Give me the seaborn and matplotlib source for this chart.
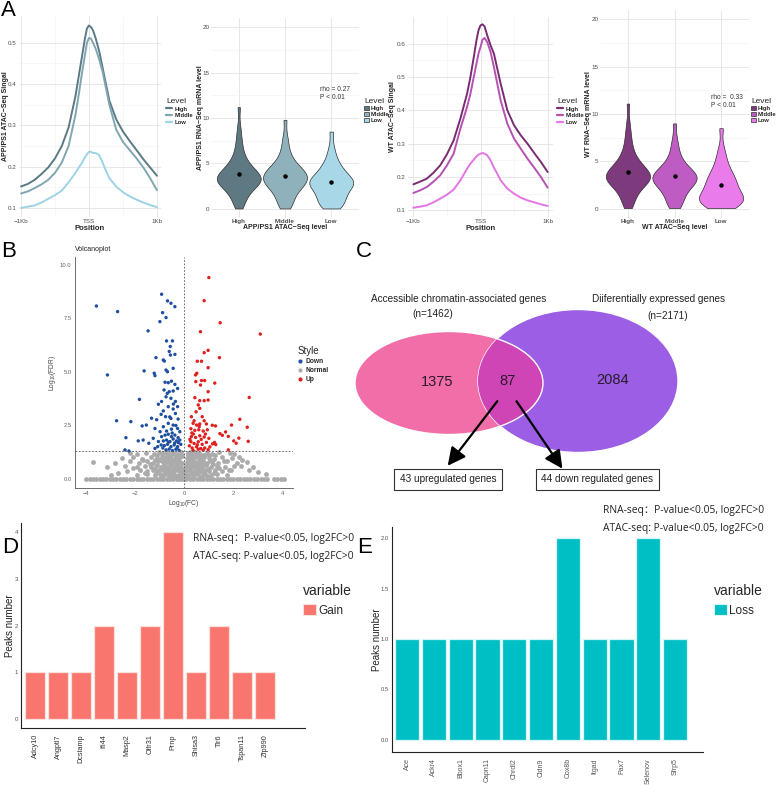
import matplotlib
matplotlib.use("Agg")
import numpy as np
import pandas as pd
import matplotlib.pyplot as plt
import seaborn as sns
from matplotlib.patches import Ellipse, Patch
from matplotlib.lines import Line2D

# ----------------------------------------------------------------------
# data
# ----------------------------------------------------------------------
levels = ["High", "Middle", "Low"]

# ATAC profile around TSS (bp)
positions = [-1000, -900, -800, -700, -600, -500, -400, -300, -200, -150, -100, -60, -30, 0,
             30, 60, 100, 150, 200, 250, 300, 400, 500, 600, 700, 800, 900, 1000]
app_high = [0.152, 0.158, 0.168, 0.182, 0.198, 0.22, 0.25, 0.295, 0.37, 0.42, 0.47, 0.51, 0.535, 0.542,
            0.538, 0.53, 0.51, 0.48, 0.44, 0.40, 0.36, 0.315, 0.285, 0.262, 0.24, 0.218, 0.198, 0.178]
app_mid = [0.135, 0.14, 0.148, 0.157, 0.168, 0.185, 0.21, 0.25, 0.325, 0.375, 0.43, 0.47, 0.5, 0.512,
           0.51, 0.5, 0.485, 0.46, 0.43, 0.39, 0.35, 0.29, 0.26, 0.24, 0.22, 0.198, 0.172, 0.143]
app_low = [0.100, 0.103, 0.106, 0.113, 0.122, 0.131, 0.142, 0.162, 0.185, 0.198, 0.21, 0.222, 0.23, 0.236,
           0.236, 0.233, 0.233, 0.228, 0.21, 0.19, 0.172, 0.152, 0.138, 0.128, 0.12, 0.113, 0.107, 0.102]
wt_high = [0.178, 0.186, 0.195, 0.213, 0.235, 0.268, 0.31, 0.375, 0.45, 0.5, 0.56, 0.61, 0.64, 0.655,
           0.658, 0.652, 0.625, 0.595, 0.57, 0.525, 0.48, 0.40, 0.355, 0.325, 0.30, 0.272, 0.245, 0.215]
wt_mid = [0.152, 0.16, 0.17, 0.186, 0.205, 0.235, 0.27, 0.345, 0.41, 0.45, 0.5, 0.54, 0.57, 0.59,
          0.612, 0.617, 0.605, 0.575, 0.53, 0.48, 0.43, 0.36, 0.315, 0.285, 0.255, 0.228, 0.2, 0.168]
wt_low = [0.108, 0.111, 0.115, 0.124, 0.135, 0.147, 0.162, 0.19, 0.225, 0.24, 0.252, 0.262, 0.267, 0.27,
          0.272, 0.27, 0.265, 0.25, 0.228, 0.21, 0.19, 0.165, 0.15, 0.138, 0.13, 0.124, 0.118, 0.113]

# RNA-seq level per ATAC group
app_rna_high = [0.05, 0.4, 0.8, 1.1, 1.4, 1.6, 1.8, 2.0, 2.2, 2.4, 2.5, 2.6, 2.7, 2.8, 2.9, 3.0, 3.05, 3.1,
                3.2, 3.25, 3.3, 3.35, 3.4, 3.5, 3.6, 3.7, 3.8, 3.9, 4.0, 4.1, 4.2, 4.35, 4.5, 4.6, 4.8,
                5.0, 5.2, 5.5, 5.8, 6.2, 6.7, 7.3, 8.0, 9.0, 11.2]
app_rna_mid = [0.05, 0.3, 0.6, 0.9, 1.2, 1.5, 1.7, 1.9, 2.1, 2.3, 2.5, 2.6, 2.7, 2.8, 2.9, 3.0, 3.1, 3.2,
               3.3, 3.4, 3.5, 3.6, 3.7, 3.8, 3.9, 4.0, 4.1, 4.2, 4.4, 4.5, 4.6, 4.8, 5.0, 5.3, 5.6, 6.0,
               6.5, 7.2, 8.0, 9.8]
app_rna_low = [0.05, 0.2, 0.4, 0.6, 0.8, 1.0, 1.2, 1.4, 1.6, 1.8, 2.0, 2.2, 2.4, 2.5, 2.6, 2.7, 2.8, 2.9,
               3.0, 3.1, 3.2, 3.3, 3.4, 3.6, 3.8, 4.0, 4.2, 4.4, 4.7, 5.0, 5.4, 6.0, 6.8, 8.5]
wt_rna_high = [0.05, 0.4, 0.8, 1.1, 1.4, 1.7, 1.9, 2.1, 2.3, 2.5, 2.6, 2.7, 2.8, 2.9, 3.0, 3.1, 3.2, 3.25,
               3.3, 3.35, 3.4, 3.5, 3.6, 3.7, 3.8, 3.9, 4.0, 4.1, 4.2, 4.35, 4.5, 4.6, 4.8, 5.0, 5.2,
               5.5, 5.8, 6.2, 6.7, 7.3, 8.0, 9.0, 11.1]
wt_rna_mid = [0.05, 0.3, 0.6, 0.9, 1.2, 1.5, 1.7, 1.9, 2.1, 2.3, 2.5, 2.6, 2.7, 2.8, 2.9, 3.0, 3.1, 3.2,
              3.3, 3.4, 3.5, 3.6, 3.7, 3.8, 3.9, 4.0, 4.2, 4.4, 4.6, 4.8, 5.1, 5.5, 6.0, 6.6, 7.4, 9.0]
wt_rna_low = [0.05, 0.2, 0.35, 0.5, 0.6, 0.7, 0.8, 0.9, 1.0, 1.1, 1.2, 1.35, 1.5, 1.7, 1.9, 2.1, 2.3,
              2.5, 2.7, 2.9, 3.1, 3.3, 3.5, 3.8, 4.1, 4.5, 5.0, 5.6, 6.4, 8.5]

# volcano
down_pts = [(-3.58, 8.08), (-2.72, 7.82), (-3.13, 4.86), (-2.76, 2.72), (-2.18, 2.68), (-2.38, 1.93),
            (-2.42, 1.36), (-2.26, 1.31), (-1.48, 6.92), (-1.64, 5.05), (-1.83, 3.72), (-1.72, 2.48),
            (-1.55, 2.52), (-1.88, 1.78), (-1.68, 1.82), (-1.34, 2.84), (-1.2, 2.36), (-1.45, 1.67),
            (-1.27, 1.9), (-0.93, 8.63), (-0.69, 8.32), (-0.55, 8.21), (-0.39, 8.05), (-0.89, 7.77),
            (-0.75, 7.54), (-1.0, 7.35), (-1.16, 5.67), (-1.23, 4.94), (-1.2, 4.83), (-0.73, 6.45),
            (-0.49, 6.45), (-0.58, 6.19), (-0.62, 5.96), (-0.57, 5.79), (-0.39, 5.82), (-0.86, 5.56),
            (-0.82, 5.51), (-0.75, 5.09), (-0.69, 5.01), (-0.46, 5.17), (-0.79, 4.52), (-0.66, 4.5),
            (-0.53, 4.57), (-0.39, 4.42), (-0.83, 4.16), (-0.62, 4.08), (-0.46, 4.11), (-0.28, 4.23),
            (-0.75, 3.84), (-0.55, 3.77), (-0.37, 3.62), (-0.93, 3.62), (-1.06, 3.49), (-0.66, 3.38),
            (-0.46, 3.27), (-0.28, 3.38), (-0.86, 3.18), (-0.95, 3.02), (-0.77, 2.91), (-0.55, 2.83),
            (-0.37, 3.06), (-0.26, 2.8), (-1.13, 2.77), (-0.66, 2.6), (-0.46, 2.52), (-0.86, 2.44),
            (-0.99, 2.21), (-0.73, 2.24), (-0.53, 2.33), (-0.28, 2.36), (-0.19, 2.21), (-0.93, 1.98),
            (-0.79, 2.05), (-0.66, 2.09), (-0.53, 1.98), (-0.39, 2.05), (-0.26, 1.93), (-0.86, 1.78),
            (-0.73, 1.82), (-0.59, 1.75), (-0.46, 1.87), (-0.32, 1.78), (-0.19, 1.82), (-0.95, 1.59),
            (-0.82, 1.56), (-0.69, 1.62), (-0.55, 1.51), (-0.42, 1.59), (-0.28, 1.51), (-0.15, 1.62),
            (-0.75, 1.36), (-0.62, 1.4), (-0.49, 1.33), (-0.35, 1.39), (-0.22, 1.34), (-1.09, 1.51),
            (-1.06, 1.75), (-1.2, 1.43), (-0.88, 1.45), (-0.65, 1.72), (-0.4, 1.68), (-0.25, 1.7),
            (-0.5, 2.15), (-0.35, 2.5), (-0.6, 2.9), (-0.45, 3.5), (-0.7, 4.0), (-0.3, 1.45)]
up_pts = [(0.99, 9.41), (0.8, 8.33), (1.45, 7.3), (0.65, 6.88), (3.08, 6.77), (0.96, 6.01), (0.8, 5.9),
          (0.52, 5.5), (0.69, 5.5), (1.42, 5.67), (0.96, 5.2), (0.5, 4.94), (0.45, 4.86), (0.46, 4.55),
          (0.69, 4.6), (0.82, 4.6), (0.65, 4.39), (1.23, 4.48), (0.96, 4.08), (0.42, 3.8), (0.62, 3.66),
          (0.8, 3.66), (0.96, 3.69), (0.56, 3.46), (0.62, 3.3), (2.63, 3.81), (0.47, 3.14), (0.28, 2.91),
          (0.72, 2.91), (2.25, 2.79), (0.39, 2.72), (0.8, 2.72), (0.35, 2.6), (0.49, 2.52), (0.62, 2.57),
          (0.89, 2.57), (1.13, 2.51), (1.26, 2.48), (1.91, 2.52), (2.55, 2.42), (1.67, 2.2), (1.44, 2.12),
          (1.54, 2.04), (1.78, 1.99), (2.21, 1.91), (2.59, 1.76), (2.0, 1.78), (2.1, 1.67), (1.22, 1.71),
          (1.14, 1.64), (1.27, 1.61), (1.78, 1.36), (0.26, 2.35), (0.42, 2.27), (0.58, 2.3), (0.76, 2.24),
          (0.93, 2.3), (0.28, 1.98), (0.45, 1.94), (0.62, 2.02), (0.8, 1.96), (0.99, 1.9), (0.26, 1.74),
          (0.39, 1.66), (0.56, 1.74), (0.72, 1.62), (0.89, 1.71), (0.31, 1.45), (0.49, 1.5), (0.66, 1.42),
          (0.82, 1.45), (1.03, 1.5), (0.35, 1.34), (0.56, 1.39), (0.76, 1.34), (0.96, 1.37), (0.2, 1.55),
          (0.22, 1.85), (0.52, 1.6), (0.68, 1.85), (0.36, 2.1), (0.85, 2.1), (0.6, 2.45), (0.3, 2.15)]
normal_pts = [(-1.92, 1.18), (-1.55, 1.22), (-1.22, 1.15), (-1.02, 1.24), (-0.86, 1.2), (-0.71, 1.26),
              (-0.56, 1.17), (-0.41, 1.23), (-0.29, 1.19), (-0.16, 1.25), (0.14, 1.21), (0.27, 1.16),
              (0.41, 1.24), (0.57, 1.2), (0.74, 1.14), (0.91, 1.22), (1.12, 1.18), (1.42, 1.25),
              (1.83, 1.21), (2.2, 1.05), (-2.52, 0.98), (-2.08, 1.04), (-1.72, 0.95), (-1.37, 1.02),
              (-1.12, 0.97), (-0.93, 1.05), (-0.79, 0.99), (-0.63, 1.03), (-0.49, 0.94), (-0.34, 1.01),
              (-0.21, 0.96), (-0.1, 1.06), (0.11, 0.98), (0.23, 1.03), (0.36, 0.95), (0.51, 1.02),
              (0.66, 0.97), (0.81, 1.04), (0.99, 0.99), (1.21, 0.93), (1.52, 1.01), (1.93, 0.96),
              (2.35, 0.9), (-3.72, 0.8), (-2.83, 0.74), (-2.21, 0.83), (-1.83, 0.77), (-1.52, 0.82),
              (-1.27, 0.76), (-1.06, 0.84), (-0.89, 0.78), (-0.73, 0.81), (-0.59, 0.75), (-0.46, 0.83),
              (-0.33, 0.77), (-0.21, 0.82), (-0.11, 0.74), (0.09, 0.79), (0.19, 0.84), (0.31, 0.76),
              (0.44, 0.81), (0.61, 0.77), (0.76, 0.83), (0.93, 0.75), (1.11, 0.8), (1.36, 0.76),
              (1.72, 0.82), (2.12, 0.74), (2.55, 0.79), (-3.15, 0.58), (-2.42, 0.63), (-1.94, 0.56),
              (-1.62, 0.62), (-1.36, 0.57), (-1.13, 0.64), (-0.96, 0.58), (-0.81, 0.61), (-0.66, 0.55),
              (-0.51, 0.63), (-0.38, 0.59), (-0.26, 0.64), (-0.13, 0.56), (0.07, 0.6), (0.17, 0.55),
              (0.29, 0.63), (0.43, 0.57), (0.57, 0.62), (0.71, 0.58), (0.87, 0.64), (1.06, 0.56),
              (1.31, 0.61), (1.63, 0.57), (2.02, 0.63), (2.62, 0.42), (-2.33, 0.38), (-1.82, 0.43),
              (-1.51, 0.36), (-1.26, 0.42), (-1.06, 0.37), (-0.89, 0.44), (-0.73, 0.39), (-0.59, 0.41),
              (-0.45, 0.35), (-0.31, 0.43), (-0.19, 0.38), (-0.08, 0.42), (0.06, 0.37), (0.16, 0.44),
              (0.27, 0.39), (0.41, 0.36), (0.55, 0.43), (0.69, 0.38), (0.85, 0.41), (1.01, 0.36),
              (1.22, 0.42), (1.51, 0.37), (1.91, 0.4), (3.0, 0.35), (-1.93, 0.18), (-1.52, 0.22),
              (-1.21, 0.17), (-1.01, 0.24), (-0.83, 0.19), (-0.67, 0.23), (-0.51, 0.16), (-0.37, 0.21),
              (-0.23, 0.18), (-0.11, 0.24), (0.05, 0.2), (0.15, 0.17), (0.26, 0.23), (0.39, 0.19),
              (0.54, 0.22), (0.7, 0.16), (0.89, 0.21), (1.09, 0.18), (1.32, 0.23), (1.71, 0.2),
              (-0.6, 0.3), (-0.4, 0.5), (-0.3, 0.7), (-0.5, 0.9), (-0.7, 1.1), (0.3, 0.3), (0.5, 0.5),
              (0.4, 0.7), (0.6, 0.9), (0.35, 1.1), (-0.2, 0.3), (0.2, 0.65), (-0.8, 0.5), (0.8, 0.3),
              (-1.15, 0.3), (-0.95, 0.12), (-0.78, 0.3), (-0.62, 0.1), (-0.47, 0.28), (-0.33, 0.08),
              (-0.14, 0.12), (0.1, 0.1), (0.33, 0.09), (0.47, 0.3), (0.62, 0.1), (0.78, 0.3), (0.97, 0.1),
              (1.18, 0.3), (-1.2, 0.5), (-1.0, 0.48), (-0.85, 0.66), (-0.68, 0.48), (-0.55, 0.68),
              (-0.42, 0.48), (-0.22, 0.5), (-0.1, 0.32), (0.12, 0.48), (0.25, 0.52), (0.37, 0.66),
              (0.5, 0.7), (0.64, 0.48), (0.8, 0.7), (0.95, 0.48), (1.15, 0.7), (-1.18, 0.9), (-0.98, 0.9),
              (-0.84, 0.88), (-0.66, 0.9), (-0.54, 1.1), (-0.4, 0.92), (-0.25, 0.9), (-0.15, 1.12),
              (0.16, 1.1), (0.28, 0.9), (0.48, 1.12), (0.7, 0.9), (0.85, 1.12), (1.05, 0.88), (1.25, 1.1),
              (-1.1, 1.1), (-0.9, 1.15), (-0.6, 1.12), (-0.35, 1.13), (0.22, 1.25), (0.65, 1.1),
              (0.98, 1.12), (-1.6, 0.3), (-1.4, 0.7), (-1.7, 0.9), (1.4, 0.5), (1.6, 0.85), (1.8, 0.4),
              (2.3, 0.6), (-2.1, 0.5), (-2.7, 0.3), (2.8, 0.55), (3.3, 0.25), (-3.0, 0.2), (2.0, 1.15),
              (-2.2, 1.2)]
normal_zero_x = [-4.0, -3.86, -3.72, -3.6, -3.45, -3.31, -3.18, -3.04, -2.9, -2.77, -2.63, -2.5, -2.36,
                 -2.22, -2.09, -1.95, -1.82, -1.68, -1.54, -1.41, -1.27, -1.13, -1.0, -0.86, -0.72,
                 -0.59, -0.45, -0.31, -0.18, -0.05, 0.08, 0.22, 0.35, 0.49, 0.63, 0.76, 0.9, 1.04,
                 1.17, 1.31, 1.45, 1.58, 1.72, 1.86, 1.99, 2.13, 2.27, 2.4, 2.54, 2.68, 2.81, 2.95,
                 3.09, 3.22, 3.36, 3.62, 3.75, 3.92, 4.05]

# venn
venn_left_only, venn_both, venn_right_only = 1375, 87, 2084
venn_n_left, venn_n_right = 1462, 2171
venn_up, venn_down = 43, 44

# peaks per gene
gain_genes = ["Adcy10", "Angptl7", "Dcstamp", "Ifi44", "Masp2", "Olfr31", "Prnp", "Shisa3", "Tlr6",
              "Tspan11", "Zfp990"]
gain_peaks = [1, 1, 1, 2, 1, 2, 4, 1, 2, 1, 1]
loss_genes = ["Ace", "Ackr4", "Bbox1", "Capn11", "Chrdl2", "Cldn9", "Cox8b", "Itgad", "Pax7",
              "Selenov", "Sfrp5"]
loss_peaks = [1, 1, 1, 1, 1, 1, 2, 1, 1, 2, 1]

# ----------------------------------------------------------------------
# layout helpers (pixel based)
# ----------------------------------------------------------------------
W, H = 778, 785
sns.set_theme(style="white")
plt.rcParams["font.family"] = ["Liberation Sans", "Noto Sans CJK SC"]
plt.rcParams["mathtext.fontset"] = "custom"
plt.rcParams["mathtext.rm"] = "Liberation Sans"
plt.rcParams["mathtext.it"] = "Liberation Sans:italic"

fig = plt.figure(figsize=(W / 100, H / 100), dpi=100)
fig.patch.set_facecolor("white")


def add_ax(l, t, r, b):
    return fig.add_axes([l / W, 1 - b / H, (r - l) / W, (b - t) / H])


def fpos(x, y):
    return (x / W, 1 - y / H)


def put_ylabel(ax, x_px):
    # centre the y label on a given figure pixel column
    l = ax.get_position().x0 * W
    w = ax.get_position().width * W
    ax.yaxis.label.set_va("center")
    ax.yaxis.set_label_coords((x_px - l) / w, 0.5)


app_line_cols = ["#5B7A85", "#80A6B1", "#9DD3E4"]
wt_line_cols = ["#7A2C72", "#B651B3", "#E475E4"]
app_vio_cols = ["#5F7983", "#8FB1BC", "#A8D8E8"]
wt_vio_cols = ["#7D3A7D", "#BE5CC3", "#EA7BEB"]


def profile(ax, high, mid, low, cols, ylabel, yticks, ylim, xlim, leg_xy, ylab_x):
    df = pd.DataFrame({
        "pos": positions * 3,
        "signal": high + mid + low,
        "Level": ["High"] * len(positions) + ["Middle"] * len(positions) + ["Low"] * len(positions),
    })
    sns.lineplot(data=df, x="pos", y="signal", hue="Level", hue_order=levels, palette=cols,
                 linewidth=1.4, ax=ax, legend=False)
    ax.set_xlim(*xlim)
    ax.set_ylim(*ylim)
    ax.set_xticks([-1000, 0, 1000], ["\u22121Kb", "TSS", "1Kb"])
    ax.set_xticks([-500, 500], minor=True)
    ax.set_yticks(yticks)
    ax.set_yticks([v + 0.05 for v in yticks[:-1]], minor=True)
    ax.grid(which="major", color="#e3e3e3", lw=0.6)
    ax.grid(which="minor", color="#f1f1f1", lw=0.4)
    ax.tick_params(which="both", length=0, labelsize=4.5, colors="#4d4d4d", pad=1.5)
    for s in ax.spines.values():
        s.set_visible(False)
    ax.set_xlabel("Position", fontsize=5.5, fontweight="bold", labelpad=1)
    ax.set_ylabel(ylabel, fontsize=5, fontweight="bold")
    put_ylabel(ax, ylab_x)
    handles = [Line2D([], [], color=c, lw=1.6) for c in cols]
    ax.legend(handles, levels, title="Level", loc="upper left", bbox_to_anchor=fpos(*leg_xy),
              bbox_transform=fig.transFigure, frameon=False, title_fontsize=6,
              handlelength=1.0, labelspacing=0.25, borderpad=0, borderaxespad=0,
              handletextpad=0.4, alignment="left", prop={"weight": "bold", "size": 4.2})


def violin(ax, vals, cols, ylabel, xlabel, rho, rho_xy, leg_xy, ylab_x):
    df = pd.DataFrame({
        "Level": ["High"] * len(vals[0]) + ["Middle"] * len(vals[1]) + ["Low"] * len(vals[2]),
        "rna": vals[0] + vals[1] + vals[2],
    })
    sns.violinplot(data=df, x="Level", y="rna", hue="Level", order=levels, hue_order=levels,
                   palette=cols, inner=None, cut=0, bw_adjust=0.75, density_norm="area",
                   width=0.95, linewidth=0.5, linecolor="#2f2f2f", saturation=1, legend=False, ax=ax)
    sns.pointplot(data=df, x="Level", y="rna", order=levels, estimator="mean", errorbar=None,
                  linestyle="none", markers="o", markersize=1.2, color="black", ax=ax)
    ax.set_xlim(-0.6, 2.6)
    ax.set_ylim(-1, 21)
    ax.set_yticks([0, 5, 10, 15, 20])
    ax.set_yticks([2.5, 7.5, 12.5, 17.5], minor=True)
    ax.grid(which="major", color="#e3e3e3", lw=0.6)
    ax.grid(which="minor", color="#f1f1f1", lw=0.4)
    ax.tick_params(which="both", length=0, labelsize=4.5, colors="#4d4d4d", pad=1)
    for lab in ax.get_xticklabels():
        lab.set_fontweight("bold")
    for s in ax.spines.values():
        s.set_visible(False)
    ax.set_xlabel(xlabel, fontsize=5, fontweight="bold", labelpad=0)
    ax.set_ylabel(ylabel, fontsize=5, fontweight="bold")
    put_ylabel(ax, ylab_x)
    ax.text(rho_xy[0], rho_xy[1], f"rho = {rho}\nP < 0.01", fontsize=4.8, color="#333333",
            va="center", linespacing=1.2)
    handles = [Patch(facecolor=c, edgecolor="#2f2f2f", lw=0.5) for c in cols]
    ax.legend(handles, levels, title="Level", loc="upper left", bbox_to_anchor=fpos(*leg_xy),
              bbox_transform=fig.transFigure, frameon=False, title_fontsize=6,
              handlelength=0.9, handleheight=0.9, labelspacing=0.1, borderpad=0, borderaxespad=0,
              handletextpad=0.3, alignment="left", prop={"weight": "bold", "size": 4.2})


# ----------------------------------------------------------------------
# A
# ----------------------------------------------------------------------
ax1 = add_ax(19, 16, 161, 217)
profile(ax1, app_high, app_mid, app_low, app_line_cols, "APP/PS1 ATAC\u2212Seq Singal",
        [0.1, 0.2, 0.3, 0.4, 0.5], (0.078, 0.565), (-1030, 1060), (166, 98), 6)
ax2 = add_ax(211, 18, 359, 218)
violin(ax2, [app_rna_high, app_rna_mid, app_rna_low], app_vio_cols,
       "APP/PS1 RNA\u2212Seq mRNA level", "APP/PS1 ATAC\u2212Seq level", "0.27", (1.75, 12.7),
       (364, 98), 200)
ax3 = add_ax(408, 17, 553, 217)
profile(ax3, wt_high, wt_mid, wt_low, wt_line_cols, "WT ATAC\u2212Seq Singal",
        [0.1, 0.2, 0.3, 0.4, 0.5, 0.6], (0.08, 0.68), (-1080, 1080), (557, 98), 392)
ax4 = add_ax(600, 10, 749, 218)
violin(ax4, [wt_rna_high, wt_rna_mid, wt_rna_low], wt_vio_cols,
       "WT RNA\u2212Seq mRNA level", "WT ATAC\u2212Seq level", " 0.33", (1.78, 11.3), (751, 98), 588)

# ----------------------------------------------------------------------
# B volcano
# ----------------------------------------------------------------------
vx = [p[0] for p in down_pts] + [p[0] for p in normal_pts] + normal_zero_x + [p[0] for p in up_pts]
vy = [p[1] for p in down_pts] + [p[1] for p in normal_pts] + [0.0] * len(normal_zero_x) + [p[1] for p in up_pts]
vstyle = (["Down"] * len(down_pts) + ["Normal"] * (len(normal_pts) + len(normal_zero_x))
          + ["Up"] * len(up_pts))
volcano = pd.DataFrame({"logFC": vx, "logFDR": vy, "Style": vstyle})
style_cols = {"Down": "#1F4FA0", "Normal": "#ABABAB", "Up": "#E0201E"}

axb = add_ax(75, 257, 293, 488)
sns.scatterplot(data=volcano[volcano.Style == "Normal"], x="logFC", y="logFDR", color=style_cols["Normal"],
                s=12, linewidth=0, ax=axb, legend=False)
sns.scatterplot(data=volcano[volcano.Style != "Normal"], x="logFC", y="logFDR", hue="Style",
                palette=style_cols, s=6, linewidth=0, ax=axb, legend=False)
axb.axvline(0, color="#555555", lw=0.6, ls=(0, (2, 2)))
axb.axhline(1.3, color="#555555", lw=0.6, ls=(0, (2, 2)))
axb.set_xlim(-4.45, 4.41)
axb.set_ylim(-0.42, 10.37)
axb.set_xticks([-4, -2, 0, 2, 4])
axb.set_yticks([0, 2.5, 5, 7.5, 10], ["0.0", "2.5", "5.0", "7.5", "10.0"])
axb.tick_params(length=1.5, width=0.5, labelsize=4.2, colors="#666666", pad=1)
for side in ["top", "right"]:
    axb.spines[side].set_visible(False)
for side in ["left", "bottom"]:
    axb.spines[side].set_color("#555555")
    axb.spines[side].set_linewidth(0.6)
axb.set_xlabel("Log$_{10}$(FC)", fontsize=4.8, color="#444444", labelpad=1)
axb.set_ylabel("Log$_{10}$(FDR)", fontsize=4.8, color="#444444")
put_ylabel(axb, 53)
axb.set_title("Volcanoplot", fontsize=5, loc="left", pad=4, color="#222222")
vh = [Line2D([], [], marker="o", ls="none", markersize=2, color=style_cols[k]) for k in ["Down", "Normal", "Up"]]
axb.legend(vh, ["Down", "Normal", "Up"], title="Style", loc="upper left", bbox_to_anchor=fpos(298, 346),
           bbox_transform=fig.transFigure, frameon=False, title_fontsize=7, handlelength=0.6,
           labelspacing=0.3, borderpad=0, borderaxespad=0, handletextpad=0.5, alignment="left",
           prop={"weight": "bold", "size": 4.8})

# ----------------------------------------------------------------------
# C venn
# ----------------------------------------------------------------------
axc = add_ax(340, 250, 778, 500)
axc.set_xlim(340, 778)
axc.set_ylim(500, 250)
axc.axis("off")
pink = Ellipse((449, 383), 188, 103, facecolor="#F26EA8", edgecolor="white", lw=1)
purple = Ellipse((578, 381), 200, 143, facecolor="#9B5EE4", edgecolor="white", lw=1)
axc.add_patch(pink)
axc.add_patch(purple)
overlap = Ellipse((449, 383), 188, 103, facecolor="#CF45B5", edgecolor="white", lw=1)
axc.add_patch(overlap)
overlap.set_clip_path(purple)
vt = dict(fontsize=7.2, color="#222222", ha="center", va="center")
axc.text(459, 299, "Accessible chromatin-associated genes", **vt)
axc.text(433, 314, f"(n={venn_n_left})", **vt)
axc.text(658, 299, "Diiferentially expressed genes", **vt)
axc.text(668, 316, f"(n={venn_n_right})", **vt)
nt = dict(fontsize=10.5, color="#2a1a2a", ha="center", va="center")
axc.text(437, 382, str(venn_left_only), **nt)
axc.text(507, 381, str(venn_both), **nt)
axc.text(613, 380, str(venn_right_only), **nt)
arrow = dict(arrowstyle="-|>,head_length=0.9,head_width=0.45", color="black", lw=1.6)
axc.annotate("", xy=(446, 468), xytext=(499, 399), arrowprops=arrow)
axc.annotate("", xy=(564, 471), xytext=(515, 399), arrowprops=arrow)
bt = dict(fontsize=7.2, color="#222222", ha="center", va="center",
          bbox=dict(boxstyle="square,pad=0.55", facecolor="white", edgecolor="#333333", lw=0.8))
axc.text(448, 479, f"{venn_up} upregulated genes", **bt)
axc.text(597, 479, f"{venn_down} down regulated genes", **bt)


# ----------------------------------------------------------------------
# D / E bars
# ----------------------------------------------------------------------
def peaks(ax, genes, vals, color, edge, label, ylim, xlim, yticks, tick_fs, leg_xy, txt_xy, lab_col, ylab_x):
    sns.barplot(x=genes, y=vals, color=color, saturation=1, width=0.9, edgecolor=edge,
                linewidth=0.9, ax=ax)
    ax.set_xlim(*xlim)
    ax.set_ylim(*ylim)
    ax.set_xticks(range(len(genes) + 1), genes + [""])
    ax.set_yticks(yticks)
    ax.tick_params(axis="x", rotation=90, labelsize=tick_fs, colors="#444444", length=2.5, width=0.6, pad=2)
    ax.tick_params(axis="y", labelsize=tick_fs - 0.8, colors="#555555", length=1.5, width=0.5, pad=0.5)
    for lab in ax.get_xticklabels():
        lab.set_color(lab_col)
    for side in ["top", "right"]:
        ax.spines[side].set_visible(False)
    for side in ["left", "bottom"]:
        ax.spines[side].set_color("#222222")
        ax.spines[side].set_linewidth(0.8)
    ax.set_ylabel("Peaks number", fontsize=7, color="#222222")
    put_ylabel(ax, ylab_x)
    ax.set_xlabel("")
    ax.legend([Patch(facecolor=color, edgecolor=edge, lw=0.8)], [label], title="variable",
              loc="upper left", bbox_to_anchor=fpos(*leg_xy), bbox_transform=fig.transFigure,
              frameon=False, fontsize=8.5, title_fontsize=10, handlelength=1.1, handleheight=1.1,
              borderpad=0, borderaxespad=0, handletextpad=0.2, alignment="left")
    tf = dict(fontsize=7.4, color="#222222", va="center", family=["Open Sans", "Noto Sans CJK SC"],
              transform=fig.transFigure)
    fig.text(*fpos(txt_xy[0], txt_xy[1]), "RNA-seq\uff1aP-value<0.05, log2FC>0", **tf)
    fig.text(*fpos(txt_xy[0], txt_xy[1] + 19), "ATAC-seq: P-value<0.05, log2FC>0", **tf)


axd = add_ax(21, 523, 305, 728)
peaks(axd, gain_genes, gain_peaks, "#F8766D", "#FCE0DC", "Gain", (-0.19, 4.19), (-0.61, 11.74),
      [0, 1, 2, 3, 4], 5.2, (303, 584), (193, 538), "#333333", 10)
axe = add_ax(392, 527, 703, 752)
peaks(axe, loss_genes, loss_peaks, "#00BFC4", "#D8F6F7", "Loss", (-0.12, 2.11), (-0.56, 11.04),
      [0, 0.5, 1, 1.5, 2], 5.0, (714, 584), (603, 510), "#555555", 377)
axe.set_yticks([0, 0.5, 1, 1.5, 2], ["0.0", "0.5", "1.0", "1.5", "2.0"])

# panel letters
for letter, (x, y) in {"A": (1, 0), "B": (1, 241), "C": (356, 241), "D": (2, 537), "E": (357, 537)}.items():
    fig.text(*fpos(x, y), letter, fontsize=16, va="top", ha="left", color="black")

fig.savefig("out.png", dpi=100, facecolor="white")
